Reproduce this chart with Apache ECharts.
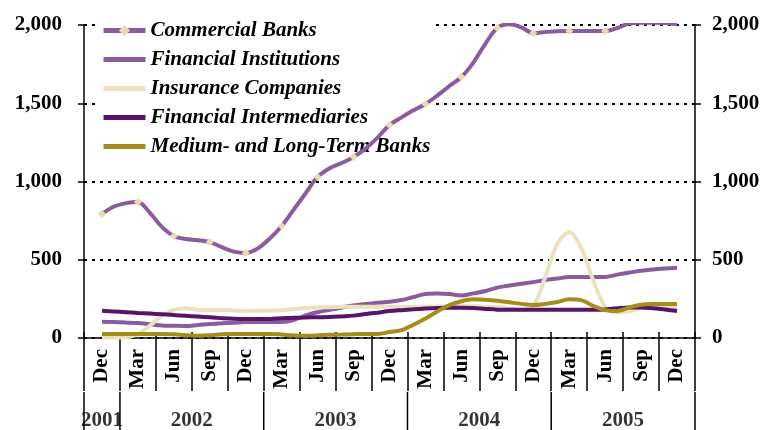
<!DOCTYPE html>
<html>
<head>
<meta charset="utf-8">
<script src="https://cdn.jsdelivr.net/npm/echarts@6/dist/echarts.min.js"></script>
<style>
  html, body { margin: 0; padding: 0; background: #fff; }
  #chart { width: 763px; height: 430px; }
</style>
</head>
<body>
<div id="chart"></div>
<script>
// Quarter-end labels along the bottom axis (Dec 2001 .. Dec 2005)
const quarterLabels = ['Dec','Mar','Jun','Sep','Dec','Mar','Jun','Sep','Dec',
                       'Mar','Jun','Sep','Dec','Mar','Jun','Sep','Dec'];
// Year row under the quarter labels, with how many quarters each year spans
const yearLabels = ['2001','2002','2003','2004','2005'];
const quartersInYear = [1, 4, 4, 4, 4];
const yTicks = [0, 500, 1000, 1500, 2000];

// Monthly outstanding amounts, Dec 2001 .. Dec 2005 (49 months)
const commercialBanks = [
  792, 840, 862, 869, 800, 710, 652, 632, 625, 613, 580, 552,
  543, 572, 635, 716, 820, 925, 1029, 1085, 1118, 1157, 1210, 1280,
  1361, 1410, 1455, 1495, 1550, 1610, 1668, 1760, 1880, 1981, 2005, 1985,
  1949, 1955, 1960, 1962, 1962, 1962, 1962, 1980, 2010, 2015, 2015, 2013,
  2006
];
const financialInstitutions = [
  104, 102, 99, 96, 88, 80, 78, 77, 83, 89, 94, 98,
  102, 102, 102, 102, 115, 145, 165, 180, 195, 208, 218, 225,
  232, 243, 262, 281, 284, 281, 272, 285, 300, 322, 335, 347,
  357, 370, 380, 390, 390, 390, 390, 405, 418, 430, 438, 444,
  449
];
const insuranceCompanies = [
  5, 3, 5, 25, 80, 140, 180, 190, 180, 178, 178, 176,
  173, 174, 176, 178, 185, 192, 195, 197, 199, 200, 200, 200,
  200, 200, 200, 200, 202, 204, 205, 203, 200, 198, 188, 180,
  205, 390, 600, 675, 575, 370, 200, 162, 170, 190, 198, 200,
  200
];
const financialIntermediaries = [
  174, 170, 165, 160, 156, 152, 147, 142, 137, 132, 127, 123,
  121, 121, 122, 126, 129, 131, 133, 134, 138, 143, 153, 162,
  172, 178, 183, 188, 192, 194, 194, 192, 186, 181, 180, 180,
  180, 180, 180, 180, 180, 180, 182, 190, 195, 195, 190, 182,
  172
];
const mediumLongTermBanks = [
  26, 26, 26, 26, 26, 26, 24, 18, 15, 18, 24, 26,
  26, 26, 26, 22, 16, 15, 17, 20, 22, 24, 26, 26,
  38, 50, 85, 125, 170, 210, 235, 247, 245, 238, 228, 218,
  211, 218, 230, 247, 242, 205, 178, 172, 195, 213, 217, 217,
  217
];

const seriesNames = ['Commercial Banks', 'Financial Institutions', 'Insurance Companies',
                     'Financial Intermediaries', 'Medium- and Long-Term Banks'];
const seriesValues = [commercialBanks, financialInstitutions, insuranceCompanies,
                      financialIntermediaries, mediumLongTermBanks];
const seriesColors = ['#8a5c9e', '#8a5c9e', '#ebe0bf', '#571468', '#a48d1a'];
const markerColor = '#e8dab2';

const FONT = '"Liberation Serif", "Times New Roman", serif';
const withCommas = v => String(v).replace(/\B(?=(\d{3})+(?!\d))/g, ',');

// Year label centres and boundaries, in quarter units
const yearCentres = [];
const yearBounds = [-0.5];
let acc = -0.5;
quartersInYear.forEach(n => {
  yearCentres.push(acc + n / 2);
  acc += n;
  yearBounds.push(acc);
});

const monthsPerQuarter = 3;
const nMonths = commercialBanks.length;

const lineSeries = seriesNames.map((name, k) => {
  const s = {
    name: name,
    type: 'line',
    xAxisIndex: 0,
    yAxisIndex: 0,
    smooth: 0.35,
    z: 3 + (k === 0 ? 2 : 0),
    data: seriesValues[k].map((v, i) => [i, v]),
    lineStyle: { color: seriesColors[k], width: 4 },
    itemStyle: { color: seriesColors[k] },
    symbol: 'none',
    emphasis: { disabled: true },
    silent: true
  };
  if (k === 0) {
    // diamond markers at every quarter end
    s.symbol = 'diamond';
    s.showSymbol = true;
    s.showAllSymbol = true;
    s.symbolSize = (val, p) => (p.dataIndex % monthsPerQuarter === 0 ? 8 : 0);
    s.itemStyle = { color: markerColor };
  }
  return s;
});

// Legend entries: plain thick lines, with the diamond kept only for Commercial Banks
const legendData = seriesNames.map((name, k) => (
  k === 0
    ? { name: name, lineStyle: { width: 5, color: seriesColors[k] } }
    : { name: name, itemStyle: { opacity: 0 }, lineStyle: { width: 5, color: seriesColors[k], opacity: 1 } }
));

const chart = echarts.init(document.getElementById('chart'), null, { renderer: 'canvas' });

chart.setOption({
  backgroundColor: '#ffffff',
  animation: false,
  textStyle: { fontFamily: FONT },
  legend: {
    data: legendData,
    orient: 'vertical',
    left: 97,
    top: 16,
    z: 1,
    backgroundColor: '#ffffff',
    padding: [4, 4, 10, 4],
    itemWidth: 42,
    itemHeight: 14,
    itemGap: 8,
    selectedMode: false,
    textStyle: { fontFamily: FONT, fontSize: 21, fontWeight: 'bold', fontStyle: 'italic', color: '#000' }
  },
  grid: [
    { left: 84, right: 68, top: 25, bottom: 92, containLabel: false },
    { left: 84, right: 68, top: 392, bottom: 0, containLabel: false }
  ],
  xAxis: [
    { // monthly positions for the lines
      type: 'value', gridIndex: 0,
      min: -monthsPerQuarter / 2, max: nMonths - 1 + monthsPerQuarter / 2,
      show: false
    },
    { // quarter labels with long separators
      type: 'category', gridIndex: 0, position: 'bottom',
      data: quarterLabels, boundaryGap: true,
      axisLine: { show: true, onZero: false, lineStyle: { color: '#000', width: 1.5 } },
      axisTick: { show: true, length: 53, lineStyle: { color: '#000', width: 1.5 } },
      axisLabel: {
        rotate: 90, margin: 11, color: '#000',
        fontFamily: FONT, fontSize: 21, fontWeight: 'bold'
      },
      splitLine: { show: false }
    },
    { // short inner ticks above the baseline
      type: 'category', gridIndex: 0, position: 'bottom',
      data: quarterLabels, boundaryGap: true,
      axisLine: { show: false, onZero: false },
      axisTick: { show: true, inside: true, length: 6, lineStyle: { color: '#000', width: 1.5 } },
      axisLabel: { show: false },
      splitLine: { show: false }
    },
    { // year row
      type: 'value', gridIndex: 1,
      min: -0.5, max: quarterLabels.length - 0.5,
      show: false
    }
  ],
  yAxis: [
    {
      type: 'value', gridIndex: 0, position: 'left',
      min: yTicks[0], max: yTicks[yTicks.length - 1], interval: yTicks[1] - yTicks[0],
      axisLine: { show: true, onZero: false, lineStyle: { color: '#000', width: 1.5 } },
      axisTick: { show: true, length: 6, lineStyle: { color: '#000', width: 1.5 } },
      axisLabel: {
        margin: 22, color: '#000', fontFamily: FONT, fontSize: 21, fontWeight: 'bold',
        formatter: withCommas
      },
      splitLine: {
        show: true,
        lineStyle: { color: '#000', width: 2, type: [3, 5] }
      }
    },
    {
      type: 'value', gridIndex: 0, position: 'right',
      min: yTicks[0], max: yTicks[yTicks.length - 1], interval: yTicks[1] - yTicks[0],
      axisLine: { show: true, onZero: false, lineStyle: { color: '#000', width: 1.5 } },
      axisTick: { show: true, length: 6, lineStyle: { color: '#000', width: 1.5 } },
      axisLabel: {
        margin: 17, color: '#000', fontFamily: FONT, fontSize: 21, fontWeight: 'bold',
        formatter: withCommas
      },
      splitLine: { show: false }
    },
    { type: 'value', gridIndex: 1, min: 0, max: 1, show: false }
  ],
  series: lineSeries.concat([
    { // year names
      type: 'scatter',
      xAxisIndex: 3,
      yAxisIndex: 2,
      silent: true,
      symbolSize: 0,
      data: yearLabels.map((y, i) => ({ value: [yearCentres[i], 0.25], name: y })),
      label: {
        show: true, position: 'inside', formatter: p => p.name,
        color: '#000', fontFamily: FONT, fontSize: 21, fontWeight: 'bold'
      }
    },
    { // year separators, running the full height of the year row
      type: 'custom',
      xAxisIndex: 3,
      yAxisIndex: 2,
      silent: true,
      clip: false,
      data: yearBounds.map(b => [b]),
      renderItem: (params, api) => {
        const top = api.coord([api.value(0), 1]);
        const bottom = api.coord([api.value(0), 0]);
        return {
          type: 'line',
          shape: { x1: top[0], y1: top[1], x2: bottom[0], y2: bottom[1] },
          style: { stroke: '#000', lineWidth: 1.5 }
        };
      }
    }
  ])
});
</script>
</body>
</html>
